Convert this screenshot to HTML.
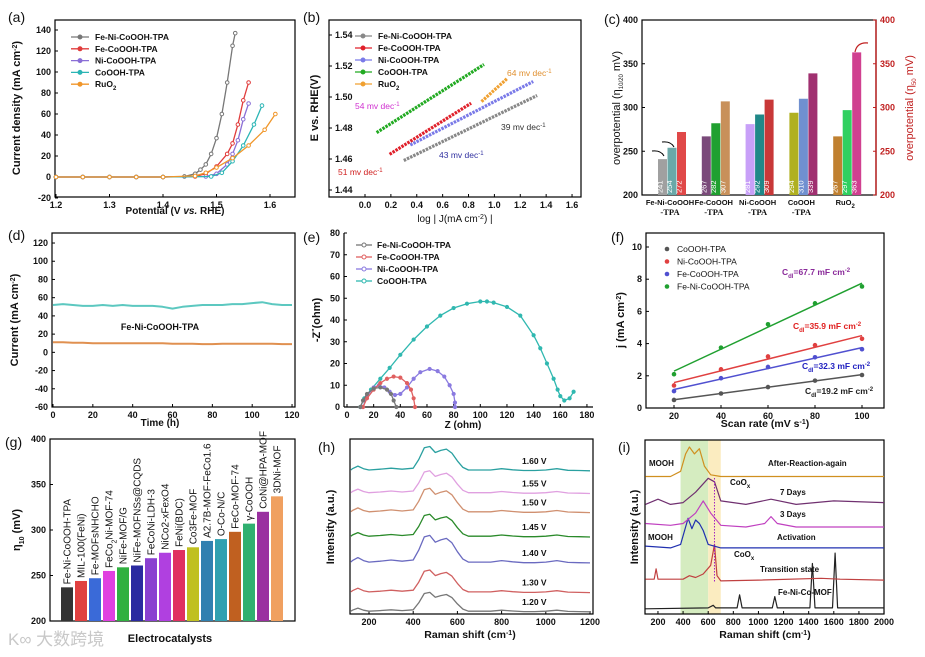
<!DOCTYPE html>
<html><head><meta charset="utf-8">
<style>
html,body{margin:0;padding:0;background:#fff;width:925px;height:657px;overflow:hidden}
svg{display:block;font-family:"Liberation Sans","Noto Sans CJK SC",sans-serif}
</style></head>
<body>
<svg id="fig" width="925" height="657" viewBox="0 0 925 657"></svg>
<script>
// ---------- DATA ----------
const aXTicks=[1.2,1.3,1.4,1.5,1.6];
const aYTicks=[-20,0,20,40,60,80,100,120,140];
const aNames=['Fe-Ni-CoOOH-TPA','Fe-CoOOH-TPA','Ni-CoOOH-TPA','CoOOH-TPA','RuO<tspan baseline-shift="sub" font-size="6">2</tspan>'];
const aFeNi=[[1.2,0],[1.25,0],[1.3,0],[1.35,0],[1.4,0],[1.44,0.5],[1.46,3],[1.47,7],[1.48,12],[1.49,22],[1.5,37],[1.51,60],[1.52,90],[1.53,125],[1.535,137]];
const aFeCo=[[1.2,0],[1.25,0],[1.3,0],[1.35,0],[1.4,0],[1.46,0.5],[1.48,3],[1.5,10],[1.52,22],[1.53,32],[1.54,50],[1.55,73],[1.56,90]];
const aNiCo=[[1.2,0],[1.25,0],[1.3,0],[1.35,0],[1.4,0],[1.48,0.5],[1.5,3],[1.52,12],[1.53,22],[1.54,35],[1.55,55],[1.56,70]];
const aCo=[[1.2,0],[1.25,0],[1.3,0],[1.35,0],[1.4,0],[1.49,0.5],[1.51,4],[1.53,15],[1.55,30],[1.57,50],[1.585,68]];
const aRu=[[1.2,0],[1.25,0],[1.3,0],[1.35,0],[1.4,0],[1.46,1],[1.48,4],[1.5,9],[1.53,18],[1.56,30],[1.59,45],[1.61,60]];

const bXTicks=[0.0,0.2,0.4,0.6,0.8,1.0,1.2,1.4,1.6];
const bYTicks=[1.44,1.46,1.48,1.50,1.52,1.54];
const bFeNi=[[0.3,1.459],[1.33,1.501]];
const bFeCo=[[0.19,1.463],[0.82,1.496]];
const bNiCo=[[0.35,1.469],[1.3,1.510]];
const bCo=[[0.09,1.477],[0.92,1.521]];
const bRu=[[0.9,1.497],[1.1,1.512]];
const bSlopes=['39 mv dec<tspan baseline-shift="super" font-size="6">-1</tspan>','51 mv dec<tspan baseline-shift="super" font-size="6">-1</tspan>','43 mv dec<tspan baseline-shift="super" font-size="6">-1</tspan>','54 mv dec<tspan baseline-shift="super" font-size="6">-1</tspan>','64 mv dec<tspan baseline-shift="super" font-size="6">-1</tspan>'];

const cYTicks=[200,250,300,350,400];
const cGroups=['Fe-Ni-CoOOH','Fe-CoOOH','Ni-CoOOH','CoOOH','RuO<tspan baseline-shift="sub" font-size="6">2</tspan>'];
const cEtaA=[241,267,281,294,267];
const cEtaB=[254,282,292,310,297];
const cEtaC=[272,307,309,339,363];

const dXTicks=[0,20,40,60,80,100,120];
const dYTicks=[-60,-40,-20,0,20,40,60,80,100,120];
const dTime=[0,5,10,15,20,25,30,35,40,45,50,55,60,65,70,75,80,85,90,95,100,105,110,115,120];
const dCyan=[52,53,52,51,51,52,51,52,51,51,51,50,48,50,51,52,52,52,53,53,54,55,53,52,52];
const dOrange=[11,11,10.5,10.5,10,10,10,10,10,10,10,10,9.5,9.5,9.5,9,9,9.5,9.5,9.5,9.5,9.5,9.5,9,9];

const eXTicks=[0,20,40,60,80,100,120,140,160,180];
const eYTicks=[0,10,20,30,40,50,60,70,80];
const eFeNi=[[10,0],[12,3],[15,6],[20,8.5],[25,9],[30,8],[33,6],[35,3],[37,0]];
const eFeCo=[[12,0],[15,4],[20,8],[25,11],[30,13],[35,14],[40,13.5],[45,11],[48,8],[50,4],[51,0]];
const eNiCo=[[12,0],[15,5],[20,9],[24,10],[28,9],[32,7],[36,5.5],[40,6],[45,9],[50,13],[55,16],[62,17.5],[68,16.5],[73,14],[77,10],[80,6],[81,2],[81,0]];
const eCo=[[10,0],[13,4],[18,8],[25,13],[32,18],[40,24],[50,31],[60,37],[70,42],[80,45.5],[90,47.5],[100,48.5],[105,48.5],[110,48],[120,46],[130,42],[140,33],[145,27],[150,20],[155,13],[158,8],[160,5],[163,3],[167,4],[170,7]];

const fXTicks=[20,40,60,80,100];
const fYTicks=[0,2,4,6,8,10];
const fRates=[20,40,60,80,100];
const fCo=[0.5,0.9,1.3,1.7,2.05];
const fNi=[1.4,2.4,3.2,3.9,4.3];
const fFe=[1.05,1.85,2.55,3.15,3.65];
const fFeNi=[2.1,3.75,5.2,6.5,7.55];
const fCdl=['67.7','35.9','32.3','19.2'];

const gYTicks=[200,250,300,350,400];
const gNames=['Fe-Ni-CoOOH-TPA','MIL-100(FeNi)','Fe-MOFsNHCHO','FeCo<tspan baseline-shift="sub" font-size="7">2</tspan>Ni-MOF-74','NiFe-MOF/G','NiFe-MOFNSs@CQDS','FeCoNi-LDH-3','NiCo2-xFexO4','FeNi(BDC)','Co3Fe-MOF','A2.7B-MOF-FeCo1.6','O-Co-N/C','FeCo-MOF-74','γ-CoOOH','CoNi@HPA-MOF','3DNi-MOF'];
const gValues=[237,244,247,255,259,261,269,275,278,281,288,290,298,307,320,337];

const hXTicks=[200,400,600,800,1000,1200];
const hShift=[100,125,150,175,200,250,300,350,400,425,450,475,500,525,550,575,600,625,650,700,750,800,850,900,950,1000,1050,1100,1150,1200];
const hShape=[0.05,0.1,0.2,0.1,0.05,0.08,0.12,0.08,0.12,0.45,0.9,0.95,0.72,0.8,0.85,0.7,0.4,0.15,0.05,0.05,0.05,0.1,0.06,0.03,0.03,0.05,0.1,0.04,0.03,0.02];
const hLevels=['1.20 V','1.30 V','1.40 V','1.45 V','1.50 V','1.55 V','1.60 V'];
const hBase=[1,12,29,44,58,69,82];
const hAmp=[12,14,17,14,15,14,15];

const iXTicks=[200,400,600,800,1000,1200,1400,1600,1800,2000];
const iMOF=[[100,3],[600,3.5],[640,5],[660,3.5],[830,3.5],[850,11],[870,3.5],[1110,3.5],[1130,10],[1150,3.5],[1410,3.5],[1430,29],[1450,3.5],[1590,3.5],[1610,35],[1630,3.5],[2000,3.5]];
const iTrans=[[100,20],[170,20],[185,26],[200,20],[400,20],[450,22],[500,21],[560,23],[620,28],[650,40],[670,22],[700,19],[1000,19.5],[1500,20.5],[1650,20],[2000,19.5]];
const iAct=[[100,39],[300,38],[380,40],[420,50],[440,55],[470,49],[500,54],[530,52],[560,48],[600,40],[700,38],[2000,38]];
const i3d=[[100,52],[300,51],[400,52],[500,58],[560,65],[620,58],[700,51],[900,50],[1050,52],[1100,56],[1150,52],[1300,50],[2000,50]];
const i7d=[[100,63],[200,66],[300,63],[400,64],[500,70],[600,78],[650,76],[700,65],[900,63],[1100,66],[1300,63],[1600,65],[2000,64]];
const iAfter=[[100,79],[300,79],[380,82],[420,92],[450,96],[490,92],[530,95],[570,85],[620,80],[700,79],[2000,79]];

// ---------- HELPERS ----------
const NS='http://www.w3.org/2000/svg', svg=document.getElementById('fig');
function el(tag,attrs,name){
  const e=document.createElementNS(NS,tag);
  for(const k in attrs)e.setAttribute(k,attrs[k]);
  
  
  svg.appendChild(e);return e;}
function txt(x,y,s,o,name){o=o||{};
  const e=el('text',{x:x,y:y,'font-size':o.size||9,'font-weight':o.w||'bold',fill:o.fill||'#111','text-anchor':o.anchor||'middle','font-family':o.ff||'"Liberation Sans","Noto Sans CJK SC",sans-serif'},name);
  if(o.rot)e.setAttribute('transform','rotate('+o.rot+' '+x+' '+y+')');
  e.innerHTML=s;return e;}
function line(x1,y1,x2,y2,o,name){return el('line',{x1:x1,y1:y1,x2:x2,y2:y2,stroke:o.stroke||'#000','stroke-width':o.sw||1,'stroke-dasharray':o.dash||'none'},name);}
function poly(pts,o,name){return el('polyline',{points:pts.map(p=>p[0].toFixed(1)+','+p[1].toFixed(1)).join(' '),fill:'none',stroke:o.stroke,'stroke-width':o.sw||1.2,'stroke-linejoin':'round','stroke-dasharray':o.dash||'none'},name);}
function dot(x,y,r,o,name){return el('circle',{cx:x,cy:y,r:r,fill:o.fill||'#fff',stroke:o.stroke||'none','stroke-width':o.sw||1},name);}
function frame(x0,y0,x1,y1,name){return el('rect',{x:x0,y:y0,width:x1-x0,height:y1-y0,fill:'none',stroke:'#000','stroke-width':1.2},name);}
function xticks(vals,fx,yb,labs){vals.forEach((v,i)=>{const x=fx(v);line(x,yb,x,yb-3,{},'x-tick');txt(x,yb+11,labs?labs[i]:String(v),{},'x-tick-label');});}
function yticks(vals,fy,xl,labs,o){o=o||{};const d=o.right?-1:1;vals.forEach((v,i)=>{const y=fy(v);line(xl,y,xl+3*d,y,{stroke:o.color||'#000'},'y-tick');txt(xl-4*d,y+3,labs?labs[i]:String(v),{anchor:o.right?'start':'end',fill:o.color||'#111'},'y-tick-label');});}
function plabel(x,y,s){txt(x,y,s,{size:14,w:'normal',anchor:'start'},'panel-label');}

// ---------- (a) ----------
plabel(8,22,'(a)');
const ax=v=>56+(v-1.2)*535, ay=j=>177-j*1.05;
frame(55,20,295,197,'plot-frame-a');
xticks(aXTicks,ax,197,aXTicks.map(v=>v.toFixed(1)));
yticks(aYTicks,ay,55);
txt(175,214,'Potential (V <tspan font-style="italic">vs.</tspan> RHE)',{size:10},'x-axis-title-a');
txt(20,108,'Current density (mA cm<tspan baseline-shift="super" font-size="7">-2</tspan>)',{size:11,rot:-90},'y-axis-title-a');
const aCols=['#777','#e03c3c','#8a6fd6','#2ab5b5','#f0962a'];
[aFeNi,aFeCo,aNiCo,aCo,aRu].forEach((s,k)=>{
  poly(s.map(p=>[ax(p[0]),ay(p[1])]),{stroke:aCols[k],sw:1.3},'lsv-curve');
  s.forEach(p=>dot(ax(p[0]),ay(p[1]),1.8,{stroke:aCols[k],fill:'#fff'},'lsv-marker'));
});
aNames.forEach((n,k)=>{const y=37+k*11.8;
  line(71,y,89,y,{stroke:aCols[k],sw:1.3},'legend-line');
  dot(80,y,2,{stroke:aCols[k],fill:aCols[k]},'legend-marker');
  txt(95,y+3,n,{size:8.5,anchor:'start'},'legend-entry');});

// ---------- (b) ----------
plabel(303,22,'(b)');
const bx=v=>365+v*129.4, by=e=>35+(1.54-e)*1550;
frame(329,20,581,197,'plot-frame-b');
xticks(bXTicks,bx,197,bXTicks.map(v=>v.toFixed(1)));
bYTicks.forEach(v=>{const y=by(v);line(329,y,332,y,{},'y-tick');txt(335,y+3,v.toFixed(2),{anchor:'start'},'y-tick-label');});
txt(455,222,'log | J(mA cm<tspan baseline-shift="super" font-size="7">-2</tspan>) |',{size:10,w:'normal'},'x-axis-title-b');
txt(318,108,'E vs. RHE(V)',{size:11,rot:-90},'y-axis-title-b');
const bCols=['#888','#e0202a','#7a7ae8','#22aa22','#f0a030'];
[bFeNi,bFeCo,bNiCo,bCo,bRu].forEach((s,k)=>{
  poly(s.map(p=>[bx(p[0]),by(p[1])]),{stroke:bCols[k],sw:3.2,dash:'2.5 1'},'tafel-line');
});
aNames.forEach((n,k)=>{const y=36+k*12;
  line(355,y,372,y,{stroke:bCols[k],sw:1.3},'legend-line');
  dot(363,y,2,{stroke:bCols[k],fill:bCols[k]},'legend-marker');
  txt(378,y+3,n,{size:8.5,anchor:'start'},'legend-entry');});
txt(501,130,bSlopes[0],{size:8.5,w:'normal',fill:'#333',anchor:'start'},'slope-label');
txt(338,175,bSlopes[1],{size:8.5,w:'normal',fill:'#d02020',anchor:'start'},'slope-label');
txt(439,158,bSlopes[2],{size:8.5,w:'normal',fill:'#3030a0',anchor:'start'},'slope-label');
txt(355,109,bSlopes[3],{size:8.5,w:'normal',fill:'#d030d0',anchor:'start'},'slope-label');
txt(507,76,bSlopes[4],{size:8.5,w:'normal',fill:'#e09030',anchor:'start'},'slope-label');

// ---------- (c) ----------
plabel(604,24,'(c)');
const cy=v=>195-(v-200)*0.875, cx=i=>672+i*43.8;
el('rect',{x:642,y:20,width:234,height:175,fill:'none',stroke:'#000','stroke-width':1.2},'plot-frame-c');
line(876,20,876,195,{stroke:'#c02020',sw:1.4},'right-axis-c');
yticks(cYTicks,cy,642);
yticks(cYTicks,cy,876,null,{right:true,color:'#c02020'});
const cColA=['#a0a0a0','#7a4a7a','#c8a0f8','#b0b020','#c08030'];
const cColB=['#6aa8a8','#20a030','#208888','#7090d0','#30d060'];
const cColC=['#e04848','#c8905a','#c83838','#a03070','#d04090'];
[[cEtaA,cColA,-14],[cEtaB,cColB,-4.5],[cEtaC,cColC,5]].forEach(([vals,cols,off])=>{
  vals.forEach((v,i)=>{const x=cx(i)+off;
    el('rect',{x:x,y:cy(v),width:9,height:195-cy(v),fill:cols[i]},'bar-overpotential');
    txt(x+4.5,193,String(v),{size:7.5,fill:'#fff',anchor:'start',rot:-90,w:'normal'},'bar-value');});
});
cGroups.forEach((g,i)=>{txt(cx(i)-2,205,g,{size:7.5},'category-label');
  if(i<4)txt(cx(i)-2,215,'-TPA',{size:8.5,ff:'"Liberation Serif",serif'},'category-label');});
txt(620,108,'overpotential (η<tspan baseline-shift="sub" font-size="6">10/20</tspan> mV)',{size:11,rot:-90,w:'normal'},'y-axis-title-c');
txt(913,108,'overpotential (η<tspan baseline-shift="sub" font-size="6">50</tspan> mV)',{size:11,rot:-90,w:'normal',fill:'#c02020'},'y-axis-title-right-c');
el('path',{d:'M664,156 q-3,-6 -12,-5',fill:'none',stroke:'#000','stroke-width':1},'arrow');
el('path',{d:'M674,147 q-3,-6 -12,-5',fill:'none',stroke:'#000','stroke-width':1},'arrow');
el('path',{d:'M855,52 q2,-10 13,-9',fill:'none',stroke:'#c02020','stroke-width':1.2},'arrow');

// ---------- (d) ----------
plabel(8,240,'(d)');
const dx=t=>53+t*1.992, dy=v=>407-(v+60)*0.911;
frame(52,233,295,407,'plot-frame-d');
xticks(dXTicks,dx,407);
yticks(dYTicks,dy,52);
txt(160,426,'Time (h)',{size:10},'x-axis-title-d');
txt(18,320,'Current (mA cm<tspan baseline-shift="super" font-size="7">-2</tspan>)',{size:11,rot:-90},'y-axis-title-d');
poly(dTime.map((t,i)=>[dx(t),dy(dCyan[i])]),{stroke:'#5cc8c0',sw:2},'stability-curve-cyan');
poly(dTime.map((t,i)=>[dx(t),dy(dOrange[i])]),{stroke:'#e09050',sw:2},'stability-curve-orange');
txt(160,330,'Fe-Ni-CoOOH-TPA',{size:9},'series-label-d');

// ---------- (e) ----------
plabel(303,242,'(e)');
const ex=z=>347+z*1.333, ey=v=>407-v*2.175;
line(344,233,344,407,{sw:1.2},'y-axis-e');
line(344,407,593,407,{sw:1.2},'x-axis-e');
xticks(eXTicks,ex,407);
yticks(eYTicks,ey,344);
txt(463,428,'Z (ohm)',{size:10},'x-axis-title-e');
txt(320,320,'-Z<tspan baseline-shift="super" font-size="7">"</tspan>(ohm)',{size:11,rot:-90},'y-axis-title-e');
const eCols=['#777','#e06060','#8a7ae0','#30b8b0'];
const eNames=['Fe-Ni-CoOOH-TPA','Fe-CoOOH-TPA','Ni-CoOOH-TPA','CoOOH-TPA'];
[eCo,eNiCo,eFeCo,eFeNi].forEach((s,kk)=>{const k=3-kk;
  poly(s.map(p=>[ex(p[0]),ey(p[1])]),{stroke:eCols[k],sw:1.3},'nyquist-curve');
  s.forEach(p=>dot(ex(p[0]),ey(p[1]),1.6,{stroke:eCols[k],fill:eCols[k]},'nyquist-marker'));});
eNames.forEach((n,k)=>{const y=245+k*12;
  line(356,y,372,y,{stroke:eCols[k],sw:1.3},'legend-line');
  dot(364,y,2,{stroke:eCols[k],fill:'#fff'},'legend-marker');
  txt(377,y+3,n,{size:8.5,anchor:'start'},'legend-entry');});

// ---------- (f) ----------
plabel(611,242,'(f)');
const fx=s=>674+(s-20)*2.35, fy=j=>408-j*16.1;
frame(646,233,884,408,'plot-frame-f');
xticks(fXTicks,fx,408);
yticks(fYTicks,fy,646);
txt(765,427,'Scan rate (mV s<tspan baseline-shift="super" font-size="7">-1</tspan>)',{size:10.5},'x-axis-title-f');
txt(624,320,'j (mA cm<tspan baseline-shift="super" font-size="7">-2</tspan>)',{size:11,rot:-90},'y-axis-title-f');
const fCols=['#555','#e04040','#5050d0','#20a030'];
const fNames=['CoOOH-TPA','Ni-CoOOH-TPA','Fe-CoOOH-TPA','Fe-Ni-CoOOH-TPA'];
[fCo,fNi,fFe,fFeNi].forEach((s,k)=>{
  const n=s.length,mx=fRates.reduce((a,b)=>a+b)/n,my=s.reduce((a,b)=>a+b)/n;
  let sxy=0,sxx=0;fRates.forEach((r,i)=>{sxy+=(r-mx)*(s[i]-my);sxx+=(r-mx)*(r-mx);});
  const m=sxy/sxx,b0=my-m*mx;
  line(fx(20),fy(b0+m*20),fx(100),fy(b0+m*100),{stroke:fCols[k],sw:1.5},'fit-line');
  s.forEach((v,i)=>dot(fx(fRates[i]),fy(v),2.3,{fill:fCols[k]},'data-point'));});
fNames.forEach((n,k)=>{const y=249+k*12.5;
  dot(667,y,2.3,{fill:fCols[k]},'legend-marker');
  txt(677,y+3,n,{size:8.5,anchor:'start',w:'normal'},'legend-entry');});
txt(782,275,'C<tspan baseline-shift="sub" font-size="6">dl</tspan>='+fCdl[0]+' mF cm<tspan baseline-shift="super" font-size="6">-2</tspan>',{size:8.5,anchor:'start',fill:'#8a2a9a'},'cdl-label');
txt(793,329,'C<tspan baseline-shift="sub" font-size="6">dl</tspan>='+fCdl[1]+' mF cm<tspan baseline-shift="super" font-size="6">-2</tspan>',{size:8.5,anchor:'start',fill:'#e02020'},'cdl-label');
txt(802,369,'C<tspan baseline-shift="sub" font-size="6">dl</tspan>='+fCdl[2]+' mF cm<tspan baseline-shift="super" font-size="6">-2</tspan>',{size:8.5,anchor:'start',fill:'#2020c0'},'cdl-label');
txt(805,394,'C<tspan baseline-shift="sub" font-size="6">dl</tspan>='+fCdl[3]+' mF cm<tspan baseline-shift="super" font-size="6">-2</tspan>',{size:8.5,anchor:'start',fill:'#222'},'cdl-label');

// ---------- (g) ----------
plabel(5,447,'(g)');
const gy=v=>621-(v-200)*0.91, gx=i=>61+i*14;
frame(50,439,295,621,'plot-frame-g');
yticks(gYTicks,gy,50);
const gCols=['#333','#e04040','#3a6ad8','#e040e0','#30b040','#2a2aa0','#8a40d0','#b040e0','#e03060','#c0c020','#3080b0','#30a0b0','#c06020','#30b070','#9a30a0','#f0a060'];
gValues.forEach((v,i)=>{
  el('rect',{x:gx(i),y:gy(v),width:12,height:621-gy(v),fill:gCols[i]},'bar-catalyst');
  txt(gx(i)+9.5,gy(v)-3,gNames[i],{size:10,anchor:'start',rot:-90,w:'normal'},'catalyst-label');});
txt(170,642,'Electrocatalysts',{size:11},'x-axis-title-g');
txt(20,530,'η<tspan baseline-shift="sub" font-size="7">10</tspan> (mV)',{size:11,rot:-90},'y-axis-title-g');
txt(8,645,'K∞ 大数跨境',{size:17,w:'normal',fill:'#c8c8c8',anchor:'start'},'watermark');

// ---------- (h) ----------
plabel(318,452,'(h)');
const hx=r=>369+(r-200)*0.221, hy=v=>614-v*1.74;
frame(350,439,593,614,'plot-frame-h');
xticks(hXTicks,hx,614);
txt(470,638,'Raman shift (cm<tspan baseline-shift="super" font-size="7">-1</tspan>)',{size:10.5},'x-axis-title-h');
txt(334,527,'Intensity (a.u.)',{size:11,rot:-90},'y-axis-title-h');
const hCols=['#777','#d06060','#6a6ac0','#2a8a2a','#d09070','#e0a0e0','#2aa0a0'];
hLevels.forEach((lv,k)=>{
  poly(hShift.map((r,i)=>[Math.max(hx(r),351),hy(hBase[k]+hShape[i]*hAmp[k])]),{stroke:hCols[k],sw:1.3},'raman-spectrum');
  txt(522,hy(hBase[k]+6)+3,lv,{size:8.5,anchor:'start'},'potential-label');});

// ---------- (i) ----------
plabel(618,452,'(i)');
const ix=r=>645.4+(r-100)*0.1256, iy=v=>614-v*1.74;
el('rect',{x:ix(380),y:440,width:ix(600)-ix(380),height:174,fill:'#d5ecc0'},'mooh-region');
el('rect',{x:ix(600),y:440,width:ix(700)-ix(600),height:174,fill:'#fbecc0'},'coox-region');
frame(645,440,884,614,'plot-frame-i');
xticks(iXTicks,ix,614);
txt(765,638,'Raman shift (cm<tspan baseline-shift="super" font-size="7">-1</tspan>)',{size:10.5},'x-axis-title-i');
txt(638,527,'Intensity (a.u.)',{size:11,rot:-90},'y-axis-title-i');
const iCols=['#222','#c04040','#2030b0','#c040c0','#703070','#d09020'];
[iMOF,iTrans,iAct,i3d,i7d,iAfter].forEach((s,k)=>poly(s.map(p=>[ix(p[0]),iy(p[1])]),{stroke:iCols[k],sw:1.2},'raman-spectrum'));
line(ix(650),478,ix(650),582,{stroke:'#a020c0',dash:'1.5 1.5'},'coox-guide-line');
txt(649,466,'MOOH',{size:8,anchor:'start'},'annotation');
txt(768,466,'After-Reaction-again',{size:8,anchor:'start'},'annotation');
txt(730,485,'CoO<tspan baseline-shift="sub" font-size="6">x</tspan>',{size:8,anchor:'start'},'annotation');
txt(780,495,'7 Days',{size:8,anchor:'start'},'annotation');
txt(780,517,'3 Days',{size:8,anchor:'start'},'annotation');
txt(648,540,'MOOH',{size:8,anchor:'start'},'annotation');
txt(777,540,'Activation',{size:8,anchor:'start'},'annotation');
txt(734,557,'CoO<tspan baseline-shift="sub" font-size="6">x</tspan>',{size:8,anchor:'start'},'annotation');
txt(760,572,'Transition state',{size:8,anchor:'start'},'annotation');
txt(778,595,'Fe-Ni-Co-MOF',{size:8,anchor:'start'},'annotation');
</script>
</body></html>
